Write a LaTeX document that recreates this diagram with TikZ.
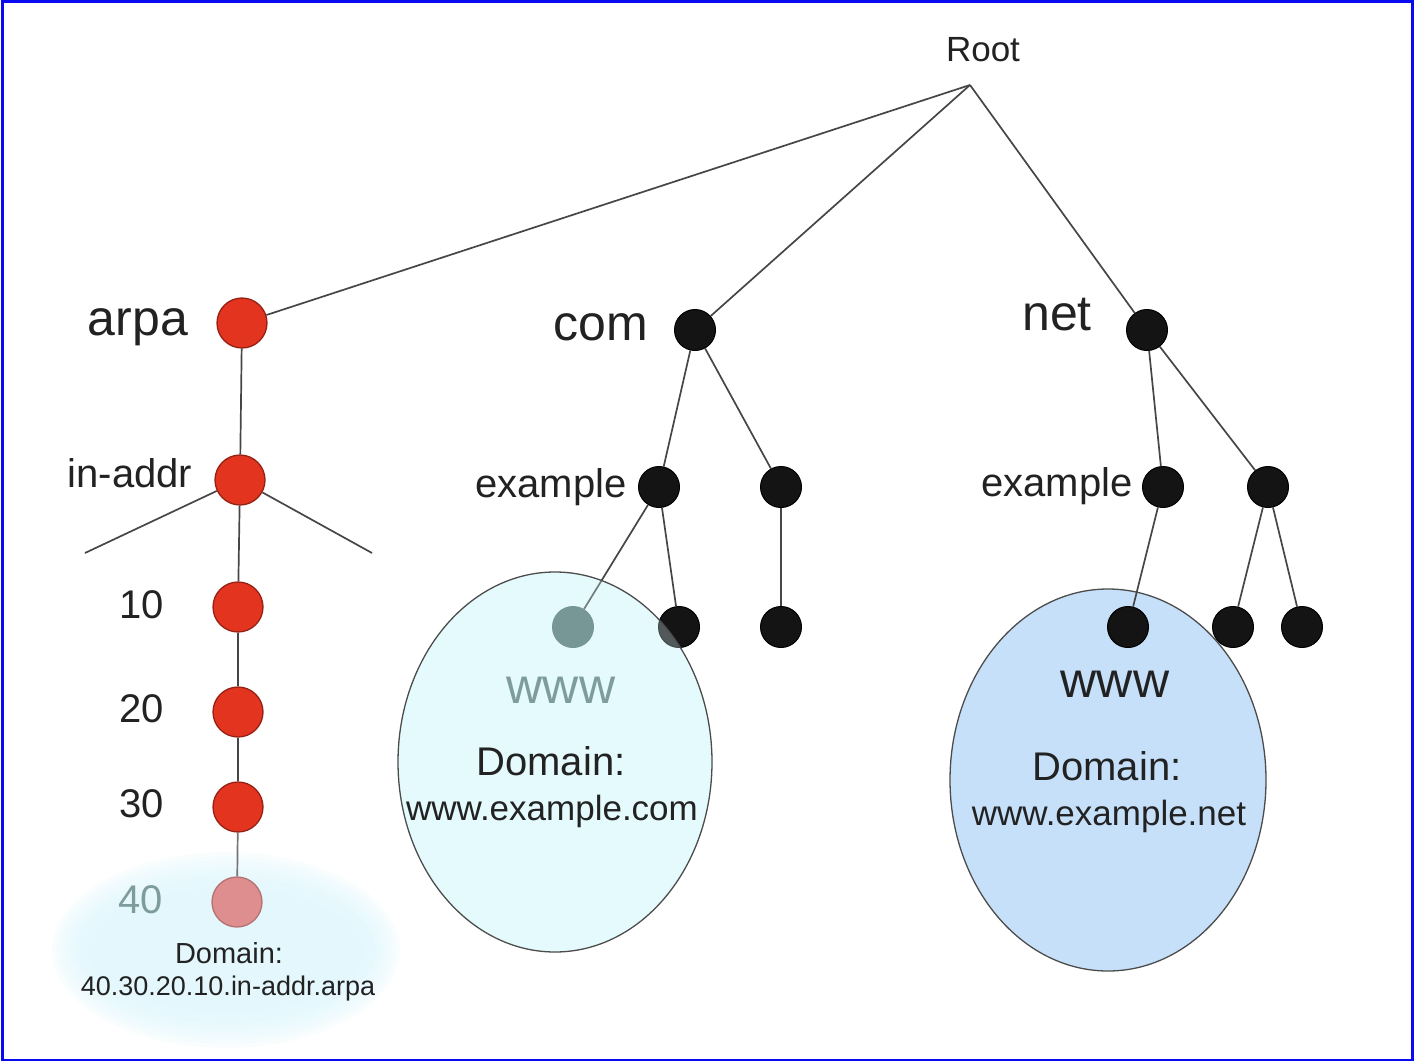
\documentclass[tikz,border=0pt]{standalone}
\usepackage{fontspec}
\setmainfont{Liberation Sans}
\definecolor{redfill}{RGB}{226,52,30}
\definecolor{reddraw}{RGB}{150,32,20}
\definecolor{txt}{RGB}{34,34,34}
\definecolor{edgecol}{RGB}{70,70,70}
\definecolor{comfill}{RGB}{228,250,252}
\definecolor{netfill}{RGB}{198,224,250}
\definecolor{arpafill}{RGB}{222,246,252}
\definecolor{fadetxt}{RGB}{126,156,156}
\definecolor{fadenode}{RGB}{73,107,106}
\definecolor{fadered}{RGB}{222,142,142}
\definecolor{frame}{RGB}{10,10,240}
\begin{document}
\begin{tikzpicture}[x=1pt,y=-1pt,
  edge/.style={draw=edgecol, line width=1.7pt},
  rednode/.style={circle, minimum size=50pt, inner sep=0pt, fill=redfill, draw=reddraw, line width=1.3pt},
  blknode/.style={circle, minimum size=41pt, inner sep=0pt, fill=black!92, draw=black, line width=1pt},
  lbl/.style={anchor=base, inner sep=0pt, text=txt},
  big/.style={lbl, font=\fontsize{50}{56}\selectfont},
  mid/.style={lbl, font=\fontsize{40}{46}\selectfont},
  small/.style={lbl, font=\fontsize{35}{40}\selectfont},
  tiny/.style={lbl, font=\fontsize{27}{32}\selectfont},
  bubble/.style={draw=black!70, line width=1.3pt}]
\useasboundingbox (0,0) rectangle (1415,1062);

% outer frame
\draw[frame, line width=2.5pt] (2.5,1.5) rectangle (1412.5,1060);

% soft highlight behind the reverse-lookup leaf
\foreach \k in {0,...,9}
  \fill[arpafill, opacity=0.17] (226,950) ellipse [x radius={(138+4*\k)*1pt}, y radius={(62+4*\k)*1pt}];

% domain bubbles (fill below the tree)
\fill[comfill] (555,762) ellipse [x radius=157pt, y radius=190pt];
\fill[netfill] (1108,780) ellipse [x radius=158pt, y radius=191pt];

% root
\coordinate (root) at (970,85);
\node[lbl, font=\fontsize{35}{40}\selectfont] (rootlbl) at (983,62) {Root};

% tree nodes
\node[rednode] (arpa) at (242,323) {};
\node[rednode] (inaddr) at (240,480) {};
\node[rednode] (n10) at (238,607) {};
\node[rednode] (n20) at (238,712) {};
\node[rednode] (n30) at (238,807) {};
\node[rednode, fill=fadered, draw=fadered!80!black] (n40) at (237,902) {};

\node[blknode] (com) at (695,330) {};
\node[blknode] (comex) at (659,487) {};
\node[blknode] (comb) at (781,487) {};
\node[blknode, fill=fadenode, draw=fadenode] (comwww) at (573,627) {};
\node[blknode] (comexb) at (679,627) {};
\node[blknode] (combb) at (781,627) {};

\node[blknode] (net) at (1147,330) {};
\node[blknode] (netex) at (1163,487) {};
\node[blknode] (netb) at (1268,487) {};
\node[blknode] (netwww) at (1128,627) {};
\node[blknode] (netba) at (1233,627) {};
\node[blknode] (netbb) at (1302,627) {};

\coordinate (inl) at (85,553);
\coordinate (inr) at (372,553);

% connectors
\draw[edge] (root) -- (arpa);
\draw[edge] (root) -- (com);
\draw[edge] (root) -- (net);
\draw[edge] (arpa) -- (inaddr);
\draw[edge] (inaddr) -- (inl);
\draw[edge] (inaddr) -- (inr);
\draw[edge] (inaddr) -- (n10);
\draw[edge] (n10) -- (n20);
\draw[edge] (n20) -- (n30);
\draw[edge, draw=edgecol!75] (n30) -- (n40);
\draw[edge] (com) -- (comex);
\draw[edge] (com) -- (comb);
\draw[edge] (comex) -- (comwww);
\draw[edge] (comex) -- (comexb);
\draw[edge] (comb) -- (combb);
\draw[edge] (net) -- (netex);
\draw[edge] (net) -- (netb);
\draw[edge] (netex) -- (netwww);
\draw[edge] (netb) -- (netba);
\draw[edge] (netb) -- (netbb);

% bubble outlines over the tree
\draw[bubble, fill=comfill, fill opacity=0.3] (555,762) ellipse [x radius=157pt, y radius=190pt];
\draw[bubble] (1108,780) ellipse [x radius=158pt, y radius=191pt];

% labels
\node[big] (larpa) at (138,335) {arpa};
\node[big] (lcom) at (601,340) {com};
\node[big] (lnet) at (1057,330) {net};
\node[mid] (linaddr) at (130,487) {in-addr};
\node[mid] (lcomex) at (551,497) {example};
\node[mid] (lnetex) at (1057,496) {example};
\node[mid] (l10) at (142,618) {10};
\node[mid] (l20) at (142,722) {20};
\node[mid] (l30) at (142,817) {30};
\node[mid, text=fadetxt] (l40) at (141,913) {40};

\node[big, text=fadetxt] (lcomwww) at (561,703) {www};
\node[mid] (lcomdom) at (551,775) {Domain:};
\node[small] (lcomfull) at (552,820) {www.example.com};

\node[big] (lnetwww) at (1115,697) {www};
\node[mid] (lnetdom) at (1107,780) {Domain:};
\node[small] (lnetfull) at (1109,825) {www.example.net};

\node[tiny, font=\fontsize{29}{34}\selectfont] (larpadom) at (229,963) {Domain:};
\node[tiny] (larpafull) at (228,995) {40.30.20.10.in-addr.arpa};
\end{tikzpicture}
\end{document}
